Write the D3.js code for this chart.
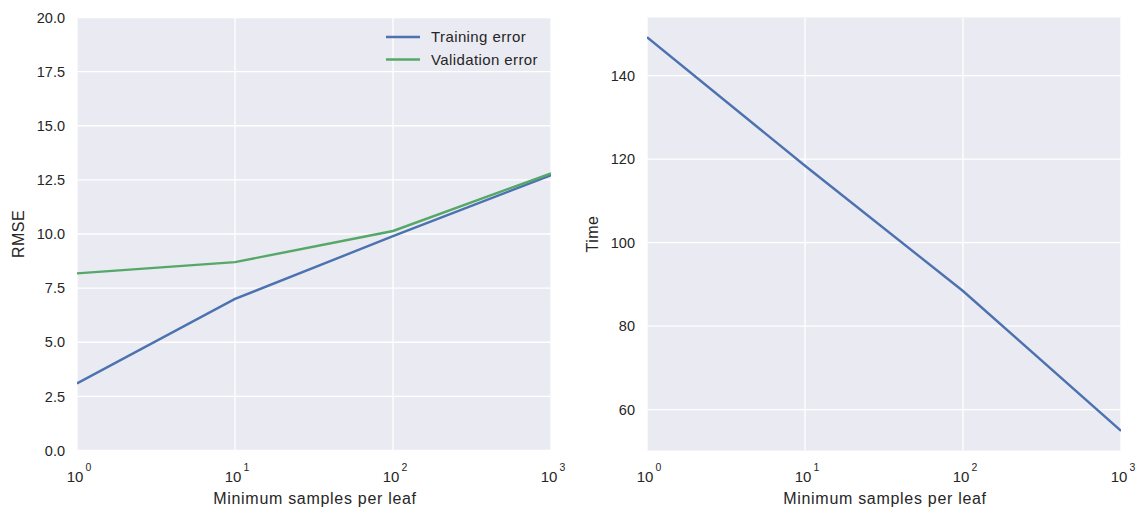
<!DOCTYPE html>
<html>
<head>
<meta charset="utf-8">
<script src="https://cdn.jsdelivr.net/npm/d3@7"></script>
<style>
  html, body { margin: 0; padding: 0; background: #fff; }
  svg { display: block; font-family: "Liberation Sans", Arial, sans-serif; }
</style>
</head>
<body>
<svg id="chart" width="1141" height="508"></svg>
<script>
// Minimum samples per leaf (log scale)
const minSamples = [1, 10, 100, 1000];
// RMSE per setting
const trainingError = [3.1, 7.0, 9.9, 12.72];
const validationError = [8.18, 8.7, 10.14, 12.8];
// Fit time per setting
const fitTime = [149.2, 118.4, 88.4, 54.9];

const rmseTicks = [0, 2.5, 5, 7.5, 10, 12.5, 15, 17.5, 20];
const timeTicks = [60, 80, 100, 120, 140];
const xTickExps = [0, 1, 2, 3];

const seriesLabels = ["Training error", "Validation error"];
const colors = ["#4C72B0", "#55A868"];

const svg = d3.select("#chart");
const bg = "#EAEAF2";
const textColor = "#262626";

function panel(opts) {
  const g = svg.append("g");
  const x = d3.scaleLog().domain([1, 1000]).range([opts.x0, opts.x1]);
  const y = d3.scaleLinear().domain(opts.yDomain).range([opts.y1, opts.y0]);

  g.append("rect")
    .attr("x", opts.x0).attr("y", opts.y0)
    .attr("width", opts.x1 - opts.x0).attr("height", opts.y1 - opts.y0)
    .attr("fill", bg);

  // grid
  g.append("g").selectAll("line").data(opts.yTicks).join("line")
    .attr("x1", opts.x0).attr("x2", opts.x1)
    .attr("y1", d => y(d)).attr("y2", d => y(d))
    .attr("stroke", "#fff").attr("stroke-width", 1.3);
  g.append("g").selectAll("line").data(xTickExps).join("line")
    .attr("y1", opts.y0).attr("y2", opts.y1)
    .attr("x1", d => x(Math.pow(10, d))).attr("x2", d => x(Math.pow(10, d)))
    .attr("stroke", "#fff").attr("stroke-width", 1.3);

  // y tick labels
  g.append("g").selectAll("text").data(opts.yTicks).join("text")
    .attr("x", opts.x0 - 12).attr("y", d => y(d))
    .attr("dy", "0.36em")
    .attr("text-anchor", "end")
    .attr("font-size", 14.5)
    .attr("fill", textColor)
    .text(opts.yFormat);

  // x tick labels as 10^n
  const xt = g.append("g").selectAll("text").data(xTickExps).join("text")
    .attr("x", d => x(Math.pow(10, d)) + 2)
    .attr("y", opts.y1 + 31)
    .attr("text-anchor", "middle")
    .attr("fill", textColor);
  xt.append("tspan").attr("font-size", 15).text("10");
  xt.append("tspan").attr("font-size", 10.5).attr("dx", 2).attr("dy", -11).text(d => d);

  // axis labels
  g.append("text")
    .attr("x", (opts.x0 + opts.x1) / 2 + 1).attr("y", opts.y1 + 53)
    .attr("text-anchor", "middle").attr("font-size", 16)
    .attr("letter-spacing", 0.7)
    .attr("fill", textColor)
    .text("Minimum samples per leaf");
  g.append("text")
    .attr("transform", `translate(${opts.ylabelX},${(opts.y0 + opts.y1) / 2}) rotate(-90)`)
    .attr("text-anchor", "middle").attr("font-size", 16)
    .attr("letter-spacing", 0.5)
    .attr("fill", textColor)
    .text(opts.ylabel);

  const line = d3.line().x(d => x(d[0])).y(d => y(d[1]));
  const clipId = "clip" + opts.id;
  svg.append("clipPath").attr("id", clipId).append("rect")
    .attr("x", opts.x0).attr("y", opts.y0)
    .attr("width", opts.x1 - opts.x0).attr("height", opts.y1 - opts.y0);
  opts.series.forEach((s, i) => {
    g.append("path")
      .datum(minSamples.map((m, k) => [m, s[k]]))
      .attr("d", line)
      .attr("fill", "none")
      .attr("stroke", colors[i])
      .attr("stroke-width", 2.4)
      .attr("clip-path", `url(#${clipId})`);
  });
  return { g, x, y };
}

const left = panel({
  id: "L", x0: 77, x1: 551, y0: 17.5, y1: 450.5,
  yDomain: [0, 20], yTicks: rmseTicks, yFormat: d3.format(".1f"),
  ylabel: "RMSE", ylabelX: 24,
  series: [trainingError, validationError]
});

panel({
  id: "R", x0: 647, x1: 1121, y0: 17.5, y1: 450.5,
  yDomain: [50.2, 153.9], yTicks: timeTicks, yFormat: d3.format("d"),
  ylabel: "Time", ylabelX: 598,
  series: [fitTime]
});

// legend
const legend = left.g.append("g");
seriesLabels.forEach((lab, i) => {
  const yy = 37 + i * 22.5;
  legend.append("line")
    .attr("x1", 386).attr("x2", 420).attr("y1", yy).attr("y2", yy)
    .attr("stroke", colors[i]).attr("stroke-width", 2.4);
  legend.append("text")
    .attr("x", 431).attr("y", yy).attr("dy", "0.36em")
    .attr("font-size", 15).attr("letter-spacing", 0.4).attr("fill", textColor)
    .text(lab);
});
</script>
</body>
</html>
